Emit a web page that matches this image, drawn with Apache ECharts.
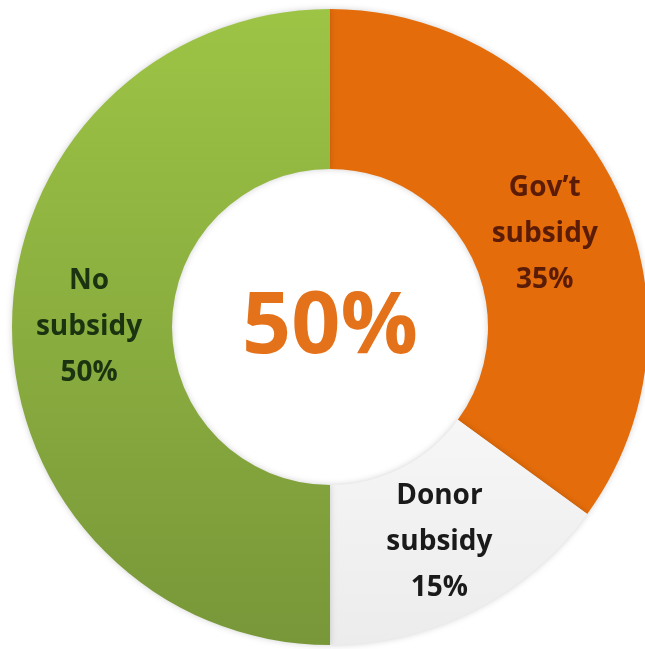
<!DOCTYPE html>
<html>
<head>
<meta charset="utf-8">
<script src="https://cdn.jsdelivr.net/npm/echarts@6/dist/echarts.min.js"></script>
<style>
  html, body { margin: 0; padding: 0; background: #ffffff; }
  #chart { width: 645px; height: 649px; }
</style>
</head>
<body>
<div id="chart"></div>
<script>
// Funding sources, clockwise from 12 o'clock
const categories = ["Gov\u2019t\nsubsidy", "Donor\nsubsidy", "No\nsubsidy"];
const shares = [35, 15, 50];
const headline = shares[2] + "%";

const sliceColors = [
  "#e46c0a",
  new echarts.graphic.LinearGradient(0, 0, 0, 1, [
    { offset: 0, color: "#f6f6f6" },
    { offset: 1, color: "#ececec" }
  ]),
  new echarts.graphic.LinearGradient(0, 0, 0, 1, [
    { offset: 0, color: "#9dc445" },
    { offset: 1, color: "#789739" }
  ])
];
const labelColors = ["#5a1c06", "#1a1a1a", "#1b3310"];

const chart = echarts.init(document.getElementById("chart"));
chart.setOption({
  backgroundColor: "#ffffff",
  animation: false,
  title: {
    text: headline,
    left: 325,
    textAlign: "center",
    top: 280,
    textStyle: {
      fontFamily: "Open Sans",
      fontWeight: "bold",
      fontSize: 86,
      color: "#e4721a"
    }
  },
  series: [{
    type: "pie",
    center: [330, 327],
    radius: [158, 318],
    startAngle: 90,
    clockwise: true,
    silent: true,
    itemStyle: {
      shadowBlur: 6,
      shadowColor: "rgba(0,0,0,0.18)"
    },
    label: {
      show: true,
      position: "inside",
      fontFamily: "Open Sans",
      fontWeight: "bold",
      fontSize: 28,
      lineHeight: 46,
      align: "center",
      formatter: p => p.name + "\n" + p.value + "%"
    },
    labelLayout: p => (p.dataIndex === 0 ? { dy: 16 } : {}),
    labelLine: { show: false },
    data: categories.map((name, i) => ({
      name: name,
      value: shares[i],
      itemStyle: { color: sliceColors[i] },
      label: { color: labelColors[i] }
    }))
  }]
});
</script>
</body>
</html>
